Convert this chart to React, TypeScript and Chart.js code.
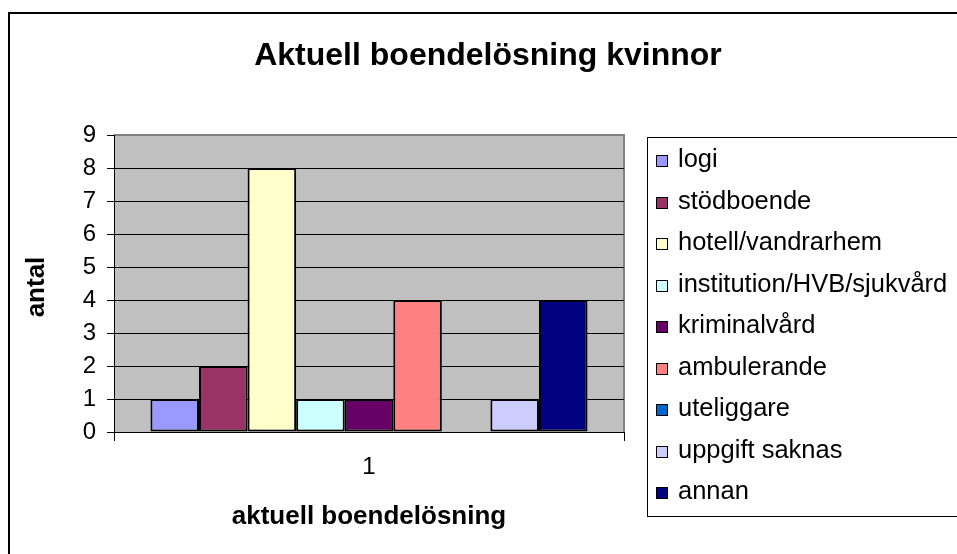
import React, { useEffect, useRef } from "react";
import { Chart, registerables } from "chart.js";

Chart.register(...registerables);

const chartTitle = "Aktuell boendelösning kvinnor";
const xAxisTitle = "aktuell boendelösning";
const yAxisTitle = "antal";
const categories = ["1"];
const seriesLabels = [
  "logi",
  "stödboende",
  "hotell/vandrarhem",
  "institution/HVB/sjukvård",
  "kriminalvård",
  "ambulerande",
  "uteliggare",
  "uppgift saknas",
  "annan",
];
const seriesValues = [1, 2, 8, 1, 1, 4, 0, 1, 4];
const seriesColors = [
  "#9999FF",
  "#993366",
  "#FFFFCC",
  "#CCFFFF",
  "#660066",
  "#FF8080",
  "#0066CC",
  "#CCCCFF",
  "#000080",
];
const yMin = 0;
const yMax = 9;
const yStep = 1;

const FONT = "'Liberation Sans', Arial, sans-serif";
const W = 1000;
const H = 600;

const decorPlugin = {
  id: "decor",
  beforeDraw(chart: any) {
    const { ctx, chartArea } = chart;
    ctx.save();
    ctx.fillStyle = "#ffffff";
    ctx.fillRect(0, 0, W, H);
    ctx.fillStyle = "#C0C0C0";
    ctx.fillRect(chartArea.left, chartArea.top, chartArea.right - chartArea.left, chartArea.bottom - chartArea.top);
    ctx.strokeStyle = "#808080";
    ctx.lineWidth = 2;
    ctx.beginPath();
    ctx.moveTo(chartArea.left, chartArea.top);
    ctx.lineTo(chartArea.right, chartArea.top);
    ctx.lineTo(chartArea.right, chartArea.bottom);
    ctx.stroke();
    ctx.restore();
  },
  afterDraw(chart: any) {
    const { ctx, chartArea } = chart;
    ctx.save();
    // outer border
    ctx.strokeStyle = "#000000";
    ctx.lineWidth = 2;
    ctx.strokeRect(9, 13, W + 50, H + 50);

    // title
    ctx.fillStyle = "#000000";
    ctx.font = `bold 32px ${FONT}`;
    ctx.textAlign = "center";
    ctx.textBaseline = "alphabetic";
    ctx.fillText(chartTitle, 488, 65);

    // x axis title
    const cx = (chartArea.left + chartArea.right) / 2;
    ctx.font = `bold 26px ${FONT}`;
    ctx.textBaseline = "middle";
    ctx.fillText(xAxisTitle, cx, 517);

    // y axis title
    ctx.save();
    ctx.translate(37, 287);
    ctx.rotate(-Math.PI / 2);
    ctx.fillText(yAxisTitle, 0, 0);
    ctx.restore();

    // legend
    const lx = 647;
    const ly = 137;
    const lb = 516;
    ctx.lineWidth = 1;
    ctx.strokeStyle = "#000000";
    ctx.strokeRect(lx + 0.5, ly + 0.5, W, lb - ly);
    ctx.font = `25.5px ${FONT}`;
    ctx.textAlign = "left";
    ctx.textBaseline = "alphabetic";
    const ds = chart.data.datasets;
    for (let i = 0; i < ds.length; i++) {
      const b = 167 + 41.5 * i;
      const sy = Math.round(b - 12);
      ctx.fillStyle = ds[i].backgroundColor;
      ctx.fillRect(656, sy, 12, 12);
      ctx.strokeStyle = "#000000";
      ctx.strokeRect(656.5, sy + 0.5, 11, 11);
      ctx.fillStyle = "#000000";
      ctx.fillText(ds[i].label, 678, b);
    }
    ctx.restore();
  },
};

export default function App() {
  const ref = useRef<HTMLCanvasElement | null>(null);
  useEffect(() => {
    if (!ref.current) return;
    const chart = new Chart(ref.current, {
      type: "bar",
      data: {
        labels: categories,
        datasets: seriesLabels.map((label, i) => ({
          label,
          data: [seriesValues[i]],
          backgroundColor: seriesColors[i],
          borderColor: "#000000",
          borderWidth: 2,
          borderSkipped: false as any,
          categoryPercentage: 0.857,
          barPercentage: 1,
        })),
      },
      options: {
        animation: false,
        responsive: false,
        devicePixelRatio: 1,
        layout: { padding: { left: 0, top: 135, right: W - 624, bottom: H - 432 - 60 } },
        plugins: {
          legend: { display: false },
          title: { display: false },
          tooltip: { enabled: false },
        },
        scales: {
          x: {
            afterFit: (s: any) => {
              s.height = 60;
            },
            grid: {
              offset: true,
              drawOnChartArea: false,
              drawTicks: true,
              tickLength: 9,
              color: "#000000",
              tickColor: "#000000",
            },
            border: { display: true, color: "#000000", width: 1 },
            ticks: { color: "#000000", font: { family: FONT, size: 24 }, padding: 12 },
          },
          y: {
            min: yMin,
            max: yMax,
            afterFit: (s: any) => {
              s.width = 114;
            },
            grid: {
              color: (c: any) => (c.tick && c.tick.value === yMax ? "rgba(0,0,0,0)" : "#000000"),
              tickColor: "#000000",
              tickLength: 7,
              lineWidth: 1,
            },
            border: { display: true, color: "#000000", width: 1 },
            ticks: { stepSize: yStep, color: "#000000", font: { family: FONT, size: 24 }, padding: 11 },
          },
        },
      },
      plugins: [decorPlugin],
    });
    return () => chart.destroy();
  }, []);
  return (
    <div style={{ position: "fixed", left: 0, top: 0, width: 957, height: 554, overflow: "hidden", background: "#fff" }}>
      <canvas ref={ref} width={W} height={H} style={{ width: W, height: H, display: "block" }} />
    </div>
  );
}
